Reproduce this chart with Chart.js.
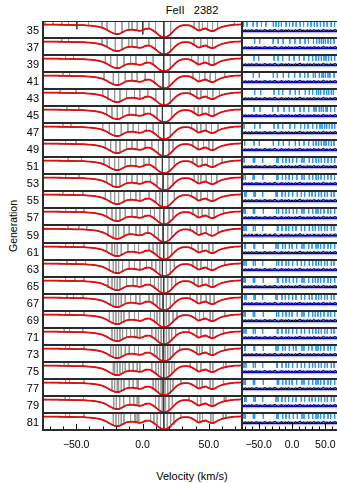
<!DOCTYPE html>
<html><head><meta charset="utf-8">
<script src="https://cdn.jsdelivr.net/npm/chart.js@4.4.1/dist/chart.umd.min.js"></script>
<style>
html,body{margin:0;padding:0;width:337px;height:483px;overflow:hidden;background:#fff;font-family:"Liberation Sans",Arial,sans-serif;color:#000}
#wrap{position:relative;width:337px;height:483px;overflow:hidden}
.box{position:absolute}
.box canvas{display:block}
#title{position:absolute;left:142px;width:100px;top:4px;text-align:center;font-size:11px;white-space:pre}
#xlab{position:absolute;left:142px;width:100px;top:470px;text-align:center;font-size:11px;white-space:nowrap}
#ylab{position:absolute;left:13px;top:226px;font-size:10.5px;transform:translate(-50%,-50%) rotate(-90deg);white-space:nowrap}
</style></head><body>
<div id="wrap">
<div id="title">FeII   2382</div>
<div id="ylab">Generation</div>
<div id="xlab">Velocity (km/s)</div>
</div>
<script>
const generations = [35,37,39,41,43,45,47,49,51,53,55,57,59,61,63,65,67,69,71,73,75,77,79,81];
const velocity = [-75,-72.5,-70,-67.5,-65,-62.5,-60,-57.5,-55,-52.5,-50,-47.5,-45,-42.5,-40,-37.5,-35,-32.5,-30,-27.5,-25,-22.5,-20,-17.5,-15,-12.5,-10,-7.5,-5,-2.5,0,2.5,5,7.5,10,12.5,15,17.5,20,22.5,25,27.5,30,32.5,35,37.5,40,42.5,45,47.5,50,52.5,55,57.5,60,62.5,65,67.5,70,72.5,75];
const modelFlux = [0.99,0.99,0.985,0.985,0.98,0.975,0.97,0.965,0.96,0.955,0.95,0.95,0.945,0.93,0.91,0.89,0.86,0.81,0.74,0.64,0.5,0.37,0.29,0.31,0.42,0.55,0.6,0.61,0.57,0.53,0.56,0.68,0.69,0.58,0.4,0.2,0.08,0.07,0.18,0.42,0.66,0.84,0.93,0.95,0.93,0.84,0.68,0.55,0.64,0.7,0.58,0.5,0.58,0.72,0.82,0.88,0.92,0.96,0.98,0.99,1.0];
const observedFlux = [1.0,0.98,0.99,0.975,0.985,0.97,0.98,0.96,0.965,0.95,0.96,0.94,0.95,0.925,0.915,0.88,0.865,0.8,0.75,0.63,0.51,0.36,0.3,0.3,0.43,0.54,0.61,0.6,0.58,0.52,0.57,0.67,0.7,0.57,0.41,0.19,0.09,0.06,0.19,0.41,0.67,0.83,0.94,0.94,0.94,0.83,0.69,0.54,0.65,0.69,0.59,0.49,0.59,0.71,0.83,0.87,0.93,0.95,0.99,0.98,1.01];
const residual = [0.2,0.05,0.35,0.0,0.3,0.1,0.4,-0.05,0.25,0.35,0.05,0.3,-0.1,0.25,0.4,0.05,0.15,0.35,-0.05,0.3,0.45,0.05,-0.15,0.25,0.35,0.0,0.3,0.1,0.4,0.05,0.25,-0.05,0.35,0.1,0.3,0.5,0.05,0.25,-0.1,0.35,0.1,0.3,0.0,0.4,0.2,0.05,0.35,-0.05,0.25,0.45,0.1,0.3,0.0,0.35,0.05,0.25,0.4,0.1,0.3,0.05,0.2];
const sigmaBand = 0.5;
const xTickLabels = [-50, 0, 50];

const leftGray = [
 [-73.5,-67.4,-60.8,-55.8,-40.7,-30.5,-26.7,-20.5,-15.4,-10.4,-7.8,-4,4.8,9.8,21.2,38.9,42.7,45.2,49,52.8,56.6,69.2],
 [-60.8,-55.8,-30.5,-26.7,-20.5,-15.4,-10.4,-7.8,-4,4.8,9.8,21.2,38.9,43.9,49,52.8],
 [-58,-52,-28,-24,-19,-14,-9,-5,3,8,21,37,42,46,50,54],
 [-60,-55,-29,-22,-18,-13,-8,-4,2,9,20,38,43,47,51,55,62],
 [-62,-50,-30,-26,-21,-17,-12,-6,-2,4,10,21,36,41,44,49,53,58],
 [-57,-48,-27,-23,-19,-15,-10,-5,1,6,11,22,39,42,45,50,54],
 [-60,-54,-30,-25,-21,-16,-11,-7,-3,3,8,12,21,37,41,44,48,52,57],
 [-58,-50,-28,-24,-20,-17,-12,-8,-4,2,7,12,20,23,38,42,46,50,53],
 [-56,-46,-29,-25,-21,-18,-13,-9,-5,1,5,10,20,24,38,41,45,49,53,60],
 [-58,-48,-27,-23,-20,-17,-12,-8,-4,0,6,11,19,23,39,42,44,48,52,56],
 [-60,-52,-45,-28,-24,-21,-18,-14,-9,-5,-2,5,10,13,19,24,37,41,44,49,53],
 [-58,-50,-44,-27,-23,-20,-17,-13,-8,-4,0,6,9,13,20,23,38,42,45,50,54,61],
 [-56,-48,-42,-26,-22,-20,-18,-14,-10,-5,-2,4,9,12,19,22,36,41,44,48,52,57],
 [-58,-52,-44,-27,-23,-21,-19,-16,-11,-6,-3,5,8,11,13,19,22,37,42,45,50,53],
 [-57,-50,-43,-25,-22,-20,-18,-15,-10,-6,-2,3,7,10,13,18,21,24,38,41,44,49,52,62],
 [-58,-51,-44,-26,-23,-21,-19,-17,-12,-7,-4,-1,6,9,12,14,19,22,25,39,42,45,50,53],
 [-57,-52,-45,-24,-22,-20,-18,-16,-13,-9,-5,-2,5,8,11,13,18,21,24,36,41,44,48,51,54],
 [-58,-55,-44,-25,-22,-20,-18,-16,-14,-10,-6,-3,6,9,11,13,18,20,23,26,40,43,46,51,53,62],
 [-59,-55,-45,-23,-21,-19,-17,-15,-12,-9,-6,-4,-2,7,10,12,14,18,20,22,25,35,41,44,51,53,61],
 [-58,-55,-44,-24,-22,-20,-18,-16,-13,-10,-6,-3,6,9,11,13,17,19,21,23,28,41,43,45,51,53,62],
 [-59,-56,-45,-22,-21,-19,-17,-15,-13,-10,-7,-4,-2,7,10,12,14,18,20,22,24,36,41,44,51,53,61,63],
 [-58,-55,-44,-23,-21,-19,-18,-16,-14,-10,-7,-4,-3,8,10,12,14,17,19,21,23,29,41,43,45,51,53,61],
 [-58.3,-55.1,-44.5,-21.7,-19.7,-17.2,-14.2,-9.6,-6.6,-4,-2.8,9.8,12.3,14.9,17.4,19.9,22.5,35.1,41.4,43.9,51.5,53.3,61.6,62.9],
 [-58,-55,-44,-22,-20,-18,-16,-14,-9,-6,-5.3,-4,-2.8,6.1,8.6,11.1,13.6,18.7,21.2,23.7,28.8,41.4,43.2,45.2,51.5,53.3,60.8,62.9]
];
const leftBlack = [
 [-49.5,0.2,16.1],[16.1],[16],[15.5],[16],[15],[16],[15.5],[15],[15.5],[15],[16],[15.5],[16],[15],[16],[15.5],[16],[16],[15.5],[16],[15.5],[16],[16.1]
];
const rightBlue = [
 [-72.6,-67.4,-58.3,-52.3,-45.8,-39.2,-28,-24,-20,-15.9,-8.9,-3.8,1.2,6.2,12.3,17.4,23.5,28.5,33.5,37.6,42.6,47.7,52.7,58.8,63.8],
 [-56,-48.5,-28.3,-20.7,-13.2,-3.2,4.4,12,19.5,24.7,32.2,37,41,44,47,50,54,58,63],
 [-57,-50,-27,-21,-14,-4,3,11,18,25,31,36,40,44,48,51,55,59,64],
 [-58,-49,-28,-22,-13,-5,4,12,19,24,32,35,41,45,47,50,54,57,63],
 [-56,-47,-27,-20,-14,-3,5,11,20,26,31,37,40,43,48,52,55,59,62],
 [-57,-48,-29,-21,-12,-4,3,12,18,25,33,36,41,44,47,51,53,58,64],
 [-72,-56,-48,-27,-21,-14,-3,4,13,19,24,31,37,42,45,49,52,56,60,64],
 [-71,-57,-49,-28,-20,-13,-4,5,11,18,25,32,36,40,44,48,51,55,59,63],
 [-72,-58,-56,-44,-23,-21,-14,-9,-4,1,7,15,18,26,31,36,40,44,49,54,59,64],
 [-72.6,-70,-58.3,-56.4,-43.8,-23,-21,-14.4,-9.4,-4.4,0.8,7.3,14.8,18.3,25.9,31.1,36.1,39.5,43.6,48.6,53.8,58.8,63.8],
 [-71,-69,-57,-55,-44,-24,-22,-15,-10,-5,1,8,14,19,26,30,35,40,44,49,53,59,63],
 [-72,-70,-58,-56,-43,-23,-20,-14,-9,-4,2,7,15,18,25,31,36,39,43,48,54,58,64],
 [-72,-69,-58,-55,-44,-22,-21,-15,-9,-5,1,6,14,19,26,31,35,40,44,49,53,59,63],
 [-71,-70,-57,-56,-43,-24,-21,-14,-10,-4,0,7,15,18,25,30,36,39,43,48,54,58,64],
 [-72,-69,-58,-55,-44,-23,-20,-15,-9,-5,1,8,14,19,26,31,36,40,44,49,53,59,63],
 [-72,-70,-58,-56,-43,-22,-21,-14,-9,-4,2,7,15,18,25,31,35,39,43,48,54,58,64],
 [-71,-69,-57,-55,-44,-24,-22,-15,-10,-5,1,6,14,19,26,30,36,40,44,49,53,59,63],
 [-72,-70,-58,-56,-43,-23,-20,-14,-9,-4,0,8,15,18,25,31,35,39,43,48,54,58,64],
 [-72,-69,-58,-55,-44,-22,-21,-15,-9,-5,1,7,14,19,26,31,36,40,44,49,53,59,63],
 [-71,-70,-57,-56,-43,-24,-21,-14,-10,-4,2,6,15,18,25,30,36,39,43,48,54,58,64],
 [-72,-69,-58,-55,-44,-23,-22,-15,-9,-5,1,8,14,19,26,31,35,40,44,49,53,59,63],
 [-72,-70,-58,-56,-43,-22,-20,-14,-9,-4,0,7,15,18,25,31,36,39,43,48,54,58,64],
 [-71,-69,-57,-55,-44,-24,-21,-15,-10,-5,1,6,14,19,26,30,35,40,44,49,53,59,63],
 [-72,-70,-58,-56,-43,-23,-21,-14,-9,-4,2,8,15,18,25,31,36,39,43,48,54,58,64]
];

const FONT = '"Liberation Sans", Arial, sans-serif';
const TOP = 20.5, ROWH = 17.083, LEFT_W = 242, AXIS_W = 43, RIGHT_W = 100, XAX_H = 30;
const FLUX_MIN = 0, FLUX_MAX = 1.25, RES_MIN = -1.6, RES_MAX = 2.4;

function pts(ys){ return velocity.map((v,i)=>({x:v,y:ys[i]})); }
function nearestModel(v){ const i = Math.round((v - velocity[0]) / (velocity[1]-velocity[0])); return modelFlux[Math.max(0,Math.min(modelFlux.length-1,i))]; }
function tickSegs(list, bottomFn, top){
  const out = [];
  list.forEach(v=>{ out.push({x:v,y:top}); out.push({x:v,y:bottomFn(v)}); out.push({x:v,y:null}); });
  return out;
}

const framePlugin = {
  id:'frame',
  afterDraw(chart, args, opts){
    const a = chart.chartArea, ctx = chart.ctx;
    ctx.save();
    ctx.strokeStyle = '#2a2a2a'; ctx.lineWidth = 2;
    ctx.strokeRect(a.left, a.top, a.right-a.left, a.bottom-a.top);
    if (opts.bottomTicks){
      const xs = chart.scales.x;
      ctx.strokeStyle = '#000'; ctx.lineWidth = 1;
      for (let v = -70; v <= 70; v += 10){
        const px = Math.round(xs.getPixelForValue(v)) + 0.5;
        const len = (v % 50 === 0) ? 6 : 3.5;
        ctx.beginPath(); ctx.moveTo(px, a.bottom); ctx.lineTo(px, a.bottom - len); ctx.stroke();
      }
    }
    ctx.restore();
  }
};

function xScale(last){
  return {
    type:'linear', min:-75, max:75, offset:false, display:last,
    grid:{display:false, drawTicks:false}, border:{display:false},
    afterBuildTicks: s => { s.ticks = xTickLabels.map(v=>({value:v})); },
    ticks:{ font:{family:FONT,size:10.5}, color:'#000', padding:9, maxRotation:0,
      callback: v => (v<0?'\u2212':'') + Math.abs(v).toFixed(1) },
    afterFit: s => { if (last) s.height = XAX_H; else s.height = 0; s.paddingLeft = 0; s.paddingRight = 0; }
  };
}

function makeBox(left, top, w, h){
  const d = document.createElement('div');
  d.className = 'box';
  d.style.left = left+'px'; d.style.top = top+'px'; d.style.width = w+'px'; d.style.height = h+'px';
  const c = document.createElement('canvas');
  d.appendChild(c);
  document.getElementById('wrap').appendChild(d);
  return c;
}

generations.forEach((g, i) => {
  const top = Math.round(TOP + i*ROWH), bottom = Math.round(TOP + (i+1)*ROWH);
  const last = i === generations.length - 1;
  const h = bottom - top + (last ? XAX_H : 0);

  new Chart(makeBox(0, top, LEFT_W, h), {
    type:'line',
    data:{ datasets:[
      { data: pts(modelFlux), borderColor:'#e01010', borderWidth:1.8, pointRadius:0, cubicInterpolationMode:'monotone' },
      { data: pts(observedFlux), borderColor:'#000', borderWidth:1, pointRadius:0, tension:0 },
      { data: tickSegs(leftBlack[i], v => Math.max(0.06, nearestModel(v) - 0.3), FLUX_MAX), borderColor:'#3a3a3a', borderWidth:1, pointRadius:0, spanGaps:false },
      { data: tickSegs(leftGray[i], v => nearestModel(v) - 0.03, FLUX_MAX), borderColor:'#9a9a9a', borderWidth:1, pointRadius:0, spanGaps:false }
    ]},
    options:{
      animation:false, responsive:true, maintainAspectRatio:false, events:[],
      layout:{padding:0},
      plugins:{ legend:{display:false}, tooltip:{enabled:false}, frame:{bottomTicks:last} },
      scales:{
        x: xScale(last),
        y: { min:FLUX_MIN, max:FLUX_MAX, display:true,
             grid:{display:false, drawTicks:false}, border:{display:false},
             afterBuildTicks: s => { s.ticks = [{value:(FLUX_MIN+FLUX_MAX)/2 - 0.12}]; },
             ticks:{ font:{family:FONT,size:11}, color:'#000', padding:4, callback: () => String(g) },
             afterFit: s => { s.width = AXIS_W; s.paddingTop = 0; s.paddingBottom = 0; } }
      }
    },
    plugins:[framePlugin]
  });

  new Chart(makeBox(LEFT_W, top, RIGHT_W, h), {
    type:'line',
    data:{ datasets:[
      { data: pts(residual), borderColor:'#000', borderWidth:1, pointRadius:0, tension:0 },
      { data: velocity.map(v=>({x:v,y:0})), borderColor:'#0000e0', borderWidth:1.5, pointRadius:0 },
      { data: velocity.map(v=>({x:v,y:sigmaBand})), borderColor:'rgba(0,0,0,0)', borderWidth:0, pointRadius:0, fill:false },
      { data: velocity.map(v=>({x:v,y:-sigmaBand})), borderColor:'rgba(0,0,0,0)', borderWidth:0, pointRadius:0, fill:'-1', backgroundColor:'rgba(120,120,230,0.55)' },
      { data: tickSegs(rightBlue[i], () => 1.05, RES_MAX - 0.1), borderColor:'#2a95ff', borderWidth:1, pointRadius:0, spanGaps:false }
    ]},
    options:{
      animation:false, responsive:true, maintainAspectRatio:false, events:[],
      layout:{padding:0},
      plugins:{ legend:{display:false}, tooltip:{enabled:false}, filler:{propagate:false}, frame:{bottomTicks:last} },
      scales:{
        x: xScale(last),
        y: { min:RES_MIN, max:RES_MAX, display:false }
      }
    },
    plugins:[framePlugin]
  });
});
</script>
</body></html>
